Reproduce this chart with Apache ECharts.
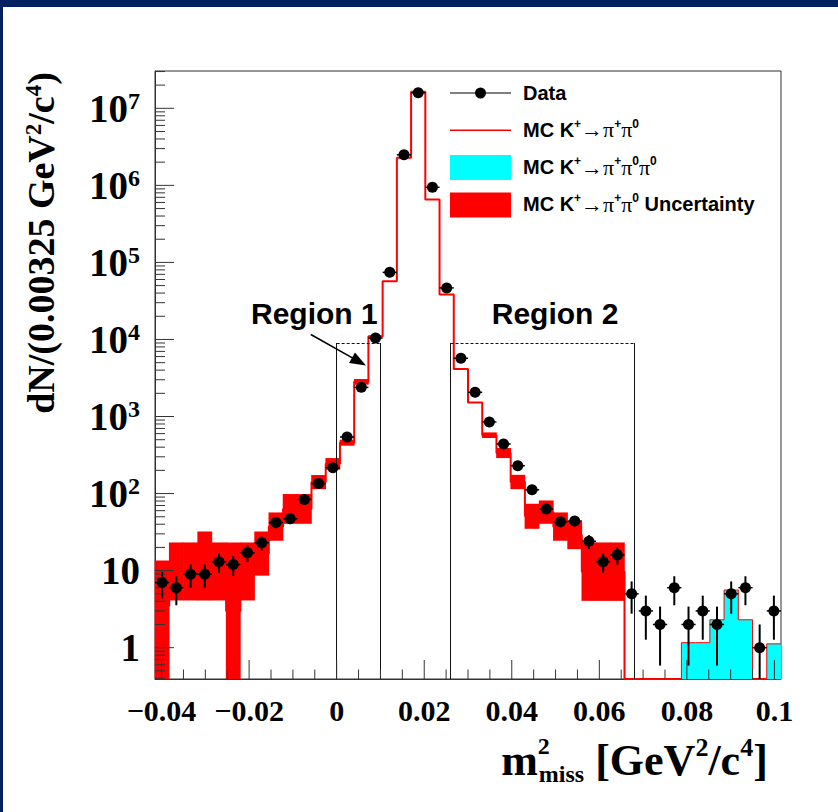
<!DOCTYPE html>
<html><head><meta charset="utf-8">
<script src="https://cdn.jsdelivr.net/npm/echarts@6/dist/echarts.min.js"></script>
<style>html,body{margin:0;padding:0;background:#fff}#c{width:838px;height:812px}</style>
</head><body><div id="c"></div>
<script>
// ---- binning / axis ranges ----
const X_MIN = -0.0415, BIN_W = 0.00325, N_BINS = 44;
const X_MAX = X_MIN + N_BINS * BIN_W;
const Y_MIN = 0.392, Y_MAX = 3.05e7;

// ---- data (per bin, 44 bins) ----
const dataCounts = [7,6,9,9,13,12,17,23,42,47,84,135,216,542,2390,10450,74300,2490000,15900000,945000,46700,5700,2060,850,440,230,112,63,43,44,24,13,16,5,3,2,6,2,3,2,5,6,1,3];
const mcPiPi0 = [3.5,9.7,9.7,11.5,9.7,3,9.7,16.6,37,63,63,141,243,457,2820,10970,56900,2280000,16400000,654000,38200,4140,1525,572,336,141,51,57,37,29,9.7,9.7,9.7,0,0,0,0,0,0,0,0,0,0,0];
const mcBandLow  = [0,4.1,4.1,4.1,4.1,0,4.1,8.6,24.4,40.5,40.5,114,204,418,2590,null,null,null,null,null,null,null,null,526,289,114,34.9,40.5,24.4,19.0,4.05,4.05,4.05,null,null,null,null,null,null,null,null,null,null,null];
const mcBandHigh = [13.5,23.2,23.2,32.2,23.2,23.2,23.2,32.2,56.9,98.6,98.6,174,289,500,3070,null,null,null,null,null,null,null,null,622,390,175,73.8,81.4,56.9,43.4,23.2,23.2,23.2,null,null,null,null,null,null,null,null,null,null,null];
const mcPiPi0Pi0 = [0,0,0,0,0,0,0,0,0,0,0,0,0,0,0,0,0,0,0,0,0,0,0,0,0,0,0,0,0,0,0,0,0,0,0,0,0,1.16,1.16,2.3,5.6,2.3,0,1.12];

// ---- tick labels ----
const xTickLabels = [-0.04,-0.02,0,0.02,0.04,0.06,0.08,0.1];
const yTickPowers = [0,1,2,3,4,5,6,7];

// ---- region annotations ----
const region1 = [0, 0.01], region2 = [0.026, 0.068], regionTop = 9000;
const regionLabels = [{name:'Region 1', x:-0.0051, y:21600},{name:'Region 2', x:0.0499, y:21600}];
const arrowFrom = [-0.0059, 11600], arrowTo = [0.0051, 5150];

const NAME_DATA = 'Data';
const NAME_MC = 'MC K⁺→π⁺π⁰';
const NAME_MC3 = 'MC K⁺→π⁺π⁰π⁰';
const NAME_UNC = 'MC K⁺→π⁺π⁰ Uncertainty';
const legendRich = {};
legendRich[NAME_DATA] = '{a|Data}';
legendRich[NAME_MC] = '{a|MC K}{u|+}{p|→π}{u|+}{p|π}{u|0}';
legendRich[NAME_MC3] = '{a|MC K}{u|+}{p|→π}{u|+}{p|π}{u|0}{p|π}{u|0}';
legendRich[NAME_UNC] = '{a|MC K}{u|+}{p|→π}{u|+}{p|π}{u|0}{a| Uncertainty}';

const SERIF = 'Liberation Serif', SANS = 'Liberation Sans';

// derived structures
const lowEdge = k => X_MIN + k * BIN_W;
const clampY = v => (v == null || v < Y_MIN) ? Y_MIN : v;
function stepData(arr, from) {
  const out = [];
  for (let k = from; k < arr.length; k++) out.push([lowEdge(k), clampY(arr[k])]);
  out.push([X_MAX, clampY(arr[arr.length - 1])]);
  return out;
}
const pointData = dataCounts.map((n, k) => [lowEdge(k) + BIN_W / 2, n]);
const bandData = [];
mcBandHigh.forEach((hi, k) => { if (hi != null) bandData.push([lowEdge(k), lowEdge(k + 1), clampY(mcBandLow[k]), hi]); });
const cyanStart = mcPiPi0Pi0.findIndex(v => v > 0);
const cyanData = [[lowEdge(cyanStart), Y_MIN]].concat(stepData(mcPiPi0Pi0, cyanStart));

const xMinor = [], xMajor = [];
for (let i = -8; i <= 20; i++) { const v = i * 0.005; (i % 4 === 0 ? xMajor : xMinor).push(v); }
const yMinor = [], yMajor = [];
for (let e = -1; e <= 7; e++) for (let m = 1; m <= 9; m++) {
  const v = m * Math.pow(10, e);
  if (v < Y_MIN || v > Y_MAX) continue;
  (m === 1 ? yMajor : yMinor).push(v);
}

function xTicks(list, len) {
  return {
    type: 'custom', silent: true, z: 5, encode: {x: 0, y: 1},
    data: list.map(v => [v, Y_MIN]),
    renderItem: (params, api) => {
      const cs = params.coordSys;
      const p = api.coord([api.value(0), Y_MIN]);
      const b = cs.y + cs.height;
      return {type: 'line', shape: {x1: p[0], y1: b, x2: p[0], y2: b - len}, style: {stroke: '#333', lineWidth: 1}};
    }
  };
}
function yTicks(list, len) {
  return {
    type: 'custom', silent: true, z: 5, encode: {x: 0, y: 1},
    data: list.map(v => [X_MIN, v]),
    renderItem: (params, api) => {
      const cs = params.coordSys;
      const p = api.coord([X_MIN, api.value(1)]);
      return {type: 'line', shape: {x1: cs.x, y1: p[1], x2: cs.x + len, y2: p[1]}, style: {stroke: '#333', lineWidth: 1}};
    }
  };
}

const chart = echarts.init(document.getElementById('c'), null, {renderer: 'svg', width: 838, height: 812});

const titleTok = (size, extra) => Object.assign({fontFamily: SERIF, fontWeight: 'bold', fontSize: size, color: '#000', align: 'left'}, extra || {});

const option = {
  animation: false,
  backgroundColor: '#ffffff',
  graphic: [
    {type: 'rect', shape: {x: 0, y: 0, width: 838, height: 7}, style: {fill: '#002060'}, z: 100},
    {type: 'rect', shape: {x: 0, y: 0, width: 3, height: 812}, style: {fill: '#002060'}, z: 100}
  ],
  grid: {left: 155, right: 57, top: 71, bottom: 133, show: true, borderColor: '#333', borderWidth: 1, backgroundColor: 'transparent'},
  legend: {
    orient: 'vertical', left: 450, top: 80.5, padding: 0,
    itemWidth: 61, itemHeight: 25, itemGap: 12.3,
    selectedMode: false,
    formatter: name => legendRich[name],
    textStyle: {
      padding: [0, 0, 0, 7], height: 25, lineHeight: 25,
      rich: {
        a: {fontFamily: SANS, fontWeight: 'bold', fontSize: 20, lineHeight: 24, color: '#000'},
        p: {fontFamily: SERIF, fontSize: 22, lineHeight: 24, color: '#000'},
        u: {fontFamily: SANS, fontWeight: 'bold', fontSize: 12, lineHeight: 20, color: '#000', verticalAlign: 'top'}
      }
    },
    data: [
      {name: NAME_DATA, icon: 'path://M0,5 L61,5 L61,6 L0,6 Z M25,5.5 A5.5,5.5 0 1 1 36,5.5 A5.5,5.5 0 1 1 25,5.5 Z', itemStyle: {color: '#000', borderWidth: 0}},
      {name: NAME_MC, icon: 'path://M0,0 L61,0 L61,1.5 L0,1.5 Z', itemStyle: {color: '#ff0000', borderColor: '#ff0000', borderWidth: 0}},
      {name: NAME_MC3, icon: 'rect', itemStyle: {color: '#00ffff', borderWidth: 0}},
      {name: NAME_UNC, icon: 'rect', itemStyle: {color: '#ff0000', borderWidth: 0}}
    ]
  },
  xAxis: {
    type: 'value', min: X_MIN, max: X_MAX, splitNumber: 7,
    axisLine: {onZero: false, lineStyle: {color: '#333', width: 1}},
    axisTick: {show: false}, splitLine: {show: false},
    axisLabel: {
      margin: 16, showMinLabel: false, showMaxLabel: false,
      fontFamily: SERIF, fontWeight: 'bold', fontSize: 30, color: '#000',
      formatter: v => {
        const hit = xTickLabels.find(t => Math.abs(t - v) < 1e-7);
        if (hit === undefined) return '';
        return String(hit).replace('-', '\u2212');
      }
    },
    name: '{m|m}{sup|2}{sub|miss}{t| [GeV}{s|2}{t|/c}{s|4}{t|]}',
    nameLocation: 'middle', nameGap: 55,
    nameTextStyle: {
      padding: [0, 0, 0, 333],
      rich: {
        m: titleTok(44, {lineHeight: 52}),
        sup: titleTok(24, {lineHeight: 24, verticalAlign: 'top', width: 1}),
        sub: titleTok(24, {lineHeight: 24, verticalAlign: 'bottom'}),
        t: titleTok(44, {lineHeight: 52}),
        s: titleTok(26, {lineHeight: 24, verticalAlign: 'top'})
      }
    }
  },
  yAxis: {
    type: 'log', logBase: 10, min: Y_MIN, max: Y_MAX,
    axisLine: {onZero: false, lineStyle: {color: '#333', width: 1}},
    axisTick: {show: false}, splitLine: {show: false}, minorTick: {show: false},
    axisLabel: {
      margin: 15, showMinLabel: false, showMaxLabel: false,
      formatter: v => {
        const e = Math.round(Math.log10(v));
        if (Math.abs(Math.log10(v) - e) > 0.01 || yTickPowers.indexOf(e) < 0) return '';
        if (e === 0) return '{b|1}';
        if (e === 1) return '{b|10}';
        return '{b|10}{s|' + e + '}';
      },
      rich: {
        b: {fontFamily: SERIF, fontWeight: 'bold', fontSize: 39, color: '#000'},
        s: {fontFamily: SERIF, fontWeight: 'bold', fontSize: 24, color: '#000', verticalAlign: 'top'}
      }
    },
    name: '{t|dN/(0.00325 GeV}{s|2}{t|/c}{s|4}{t|)}',
    nameLocation: 'middle', nameRotate: 90, nameGap: 95,
    nameTextStyle: {
      padding: [0, 0, 0, 264],
      rich: {
        t: {fontFamily: SERIF, fontWeight: 'bold', fontSize: 38, color: '#000'},
        s: {fontFamily: SERIF, fontWeight: 'bold', fontSize: 23, color: '#000', verticalAlign: 'top'}
      }
    }
  },
  series: [
    {
      name: NAME_UNC, type: 'custom', silent: true, z: 2,
      itemStyle: {color: '#ff0000'},
      encode: {x: [0, 1], y: [2, 3]},
      data: bandData,
      renderItem: (params, api) => {
        const a = api.coord([api.value(0), api.value(3)]);
        const b = api.coord([api.value(1), api.value(2)]);
        return {type: 'rect', shape: {x: a[0] - 0.3, y: a[1], width: b[0] - a[0] + 0.6, height: b[1] - a[1]}, style: {fill: '#ff0000'}};
      }
    },
    {
      name: NAME_MC, type: 'line', step: 'end', silent: true, z: 3,
      symbol: 'none', itemStyle: {color: '#ff0000'},
      lineStyle: {color: '#ff0000', width: 2},
      data: stepData(mcPiPi0, 0),
      markLine: {
        silent: true, animation: false, symbol: ['none', 'none'],
        label: {show: false},
        lineStyle: {color: '#111', width: 1, type: 'solid'},
        data: [
          [{coord: [region1[0], Y_MIN]}, {coord: [region1[0], regionTop]}],
          [{coord: [region1[1], Y_MIN]}, {coord: [region1[1], regionTop]}],
          [{coord: [region1[0], regionTop], lineStyle: {type: [3, 2]}}, {coord: [region1[1], regionTop]}],
          [{coord: [region2[0], Y_MIN]}, {coord: [region2[0], regionTop]}],
          [{coord: [region2[1], Y_MIN]}, {coord: [region2[1], regionTop]}],
          [{coord: [region2[0], regionTop], lineStyle: {type: [3, 2]}}, {coord: [region2[1], regionTop]}],
          [{coord: arrowFrom, symbol: 'none', lineStyle: {color: '#000', width: 1.5}}, {coord: arrowTo, symbol: 'triangle', symbolSize: [12, 16]}]
        ]
      },
      markPoint: {
        silent: true, animation: false, symbol: 'rect', symbolSize: 1,
        itemStyle: {color: 'rgba(0,0,0,0)'},
        label: {show: true, position: 'inside', formatter: '{b}', fontFamily: SANS, fontWeight: 'bold', fontSize: 30, color: '#000'},
        data: regionLabels.map(r => ({name: r.name, coord: [r.x, r.y]}))
      }
    },
    {
      name: NAME_MC3, type: 'line', step: 'end', silent: true, z: 4,
      symbol: 'none', itemStyle: {color: '#00ffff'},
      lineStyle: {color: '#ff0000', width: 1},
      areaStyle: {color: '#00ffff', opacity: 1, origin: 'start'},
      data: cyanData
    },
    {
      name: NAME_DATA, type: 'custom', silent: true, z: 6,
      itemStyle: {color: '#000'},
      encode: {x: 0, y: 1},
      data: pointData,
      renderItem: (params, api) => {
        const x = api.value(0), n = api.value(1);
        const e = Math.sqrt(n);
        const c = api.coord([x, n]);
        const lo = api.coord([x, Math.max(n - e, Y_MIN)]);
        const hi = api.coord([x, n + e]);
        const l = api.coord([x - BIN_W / 2, n]);
        const r = api.coord([x + BIN_W / 2, n]);
        return {type: 'group', children: [
          {type: 'line', shape: {x1: c[0], y1: hi[1], x2: c[0], y2: lo[1]}, style: {stroke: '#000', lineWidth: 2}},
          {type: 'line', shape: {x1: l[0], y1: c[1], x2: r[0], y2: c[1]}, style: {stroke: '#000', lineWidth: 1.5}},
          {type: 'circle', shape: {cx: c[0], cy: c[1], r: 5.5}, style: {fill: '#000'}}
        ]};
      }
    },
    xTicks(xMajor, 19), xTicks(xMinor, 9.5), yTicks(yMajor, 19), yTicks(yMinor, 10)
  ]
};
chart.setOption(option);
</script></body></html>
